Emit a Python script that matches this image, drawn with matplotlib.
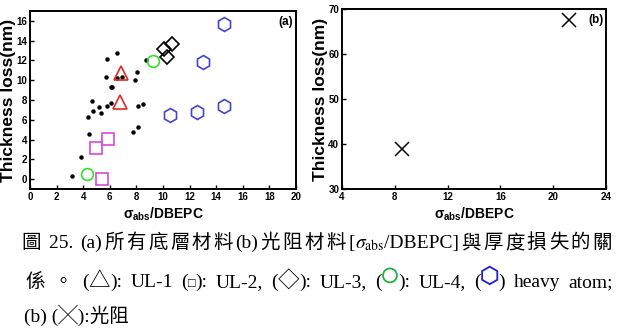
import matplotlib
matplotlib.use("Agg")
import matplotlib.pyplot as plt
from matplotlib.offsetbox import TextArea, HPacker, AnchoredOffsetbox, DrawingArea
from matplotlib.patches import RegularPolygon, Circle

plt.rcParams['mathtext.fontset'] = 'custom'
plt.rcParams['mathtext.rm'] = 'Liberation Sans:bold'
plt.rcParams['mathtext.it'] = 'Liberation Sans:bold'
plt.rcParams['mathtext.bf'] = 'Liberation Sans:bold'

# ---------------- data ----------------
dots_x = [3.16, 3.86, 4.41, 4.36, 4.69, 4.74, 5.21, 5.31, 5.81, 5.74, 5.81, 6.12, 6.20,
          6.12, 6.52, 6.57, 6.92, 7.87, 8.07, 8.12, 8.47, 7.77, 8.12, 8.72]
dots_y = [0.30, 2.2, 4.57, 6.28, 7.9, 6.9, 7.3, 6.7, 7.36, 10.3, 12.1, 9.30, 9.35,
          7.72, 12.78, 10.2, 10.3, 10.06, 10.8, 7.36, 7.56, 4.78, 5.28, 12.07]
ul1_x = [6.84, 6.79]
ul1_y = [10.7, 7.8]
ul2_x = [4.94, 5.89, 5.44]
ul2_y = [3.14, 4.08, 0.03]
ul3_x = [10.08, 10.70, 10.33]
ul3_y = [13.15, 13.65, 12.38]
ul4_x = [4.26, 9.27]
ul4_y = [0.53, 11.98]
heavy_x = [14.61, 13.03, 10.53, 12.53, 14.59]
heavy_y = [15.72, 11.8, 6.46, 6.79, 7.36]
resist_x = [8.55, 21.17]
resist_y = [38.8, 67.5]

xticks_a = [0, 2, 4, 6, 8, 10, 12, 14, 16, 18, 20]
yticks_a = [0, 2, 4, 6, 8, 10, 12, 14, 16]
xticks_b = [4, 8, 12, 16, 20, 24]
yticks_b = [30, 40, 50, 60, 70]

W, H = 617, 335
fig = plt.figure(figsize=(W / 100, H / 100), dpi=100)

def fx(px):
    return px / W

def fy(py):
    return 1 - py / H

axa = fig.add_axes([fx(30), fy(189), fx(296) - fx(30), fy(11) - fy(189)])
axb = fig.add_axes([fx(342), fy(189), fx(606) - fx(342), fy(9) - fy(189)])

mk = dict(linestyle='none', markerfacecolor='none', markeredgewidth=1.2)
axa.plot(dots_x, dots_y, 'o', color='black', markersize=2.2, linestyle='none')
axa.plot(ul1_x, ul1_y, '^', markeredgecolor='#e02828', markersize=10.5, **mk)
axa.plot(ul2_x, ul2_y, 's', markeredgecolor='#d848d8', markersize=8, **mk)
axa.plot(ul3_x, ul3_y, 'D', markeredgecolor='black', markersize=7, **mk)
axa.plot(ul4_x, ul4_y, 'o', markeredgecolor='#30e030', markersize=8.5, **mk)
axa.plot(heavy_x, heavy_y, 'h', markeredgecolor='#4545c8', markersize=10, **mk)

axb.plot(resist_x, resist_y, 'x', color='black', markersize=9.5, markeredgewidth=1.1,
         linestyle='none')

tickfont = dict(family='Liberation Sans', weight='bold', size=7)
xlabfont = dict(family='Liberation Sans', weight='bold', size=10)
ylabfont = dict(family='Liberation Sans', weight='bold', size=12.5)

for ax, xt, yt, xl, yl in [(axa, xticks_a, yticks_a, (0, 20), (-1, 17)),
                           (axb, xticks_b, yticks_b, (4, 24), (30, 70))]:
    ax.set_xlim(*xl)
    ax.set_ylim(*yl)
    ax.set_xticks(xt)
    ax.set_yticks(yt)
    ax.set_xticklabels([str(v) for v in xt], fontdict=tickfont)
    ax.set_yticklabels([str(v) for v in yt], fontdict=tickfont)
    ax.tick_params(direction='in', length=3, width=1, pad=2)
    for s in ax.spines.values():
        s.set_linewidth(1.4)
    ax.set_ylabel('Thickness loss(nm)', fontdict=ylabfont, labelpad=0)
    ax.set_xlabel(r'$\sigma_{abs}$/DBEPC', fontdict=xlabfont, labelpad=3)

axa.text(0.99, 0.97, '(a)', transform=axa.transAxes, ha='right', va='top',
         family='Liberation Sans', weight='bold', size=8.5)
axb.text(0.99, 0.97, '(b)', transform=axb.transAxes, ha='right', va='top',
         family='Liberation Sans', weight='bold', size=8.5)

# ---------------- caption ----------------
cap_fam = ['Liberation Serif', 'Noto Sans CJK TC', 'DejaVu Sans']
FS = 14

def ta(s, color='black', size=FS):
    return TextArea(s, textprops=dict(family=cap_fam, size=size, color=color,
                                       math_fontfamily='stix'))

def grp(*children):
    return HPacker(children=list(children), align='baseline', pad=0, sep=0)

def place(children, x, y, width=None, loc='center left'):
    if width is None:
        box = HPacker(children=children, align='baseline', pad=0, sep=0)
    else:
        box = HPacker(children=children, align='baseline', pad=0, sep=0,
                      mode='expand', width=width)
    ab = AnchoredOffsetbox(loc=loc, child=box, pad=0, frameon=False,
                           bbox_to_anchor=(fx(x), fy(y)),
                           bbox_transform=fig.transFigure, borderpad=0)
    fig.add_artist(ab)

line1 = [ta('圖 '), ta('25. '), ta('(a)')] + [ta(c) for c in '所有底層材料'] + [ta('(b)')] + \
        [ta(c) for c in '光阻材料'] + \
        [grp(ta('['), ta(r'$\sigma_{\rm abs}$'), ta('/DBEPC]'))] + \
        [ta(c) for c in '與厚度損失的關']
place(line1, 22, 243, width=590)

hexd = DrawingArea(13, 14, 0, 0)
hexd.add_artist(RegularPolygon((6.5, 8.5), 6, radius=6.3, facecolor='none',
                               edgecolor='#2020d0', linewidth=1.3))
circd = DrawingArea(12, 14, 0, 0)
circd.add_artist(Circle((6, 8.5), 5, facecolor='none', edgecolor='#20b040', linewidth=1.3))

line2 = [grp(ta('係'), ta('  。')), grp(ta('('), ta('△', size=15.5), ta('):')), ta('UL-1'),
         grp(ta('('), ta('□', size=9), ta('):')),
         ta('UL-2,'), grp(ta('('), ta('◇', size=15.5), ta('):')), ta('UL-3,'),
         grp(ta('('), circd, ta('):')),
         ta('UL-4,'), grp(ta('('), hexd, ta(')')), ta('heavy'), ta('atom;')]
place(line2, 25, 280, width=588)

line3 = [ta('(b) (╳):光阻')]
place(line3, 24, 315)

fig.savefig('out.png', dpi=100)
